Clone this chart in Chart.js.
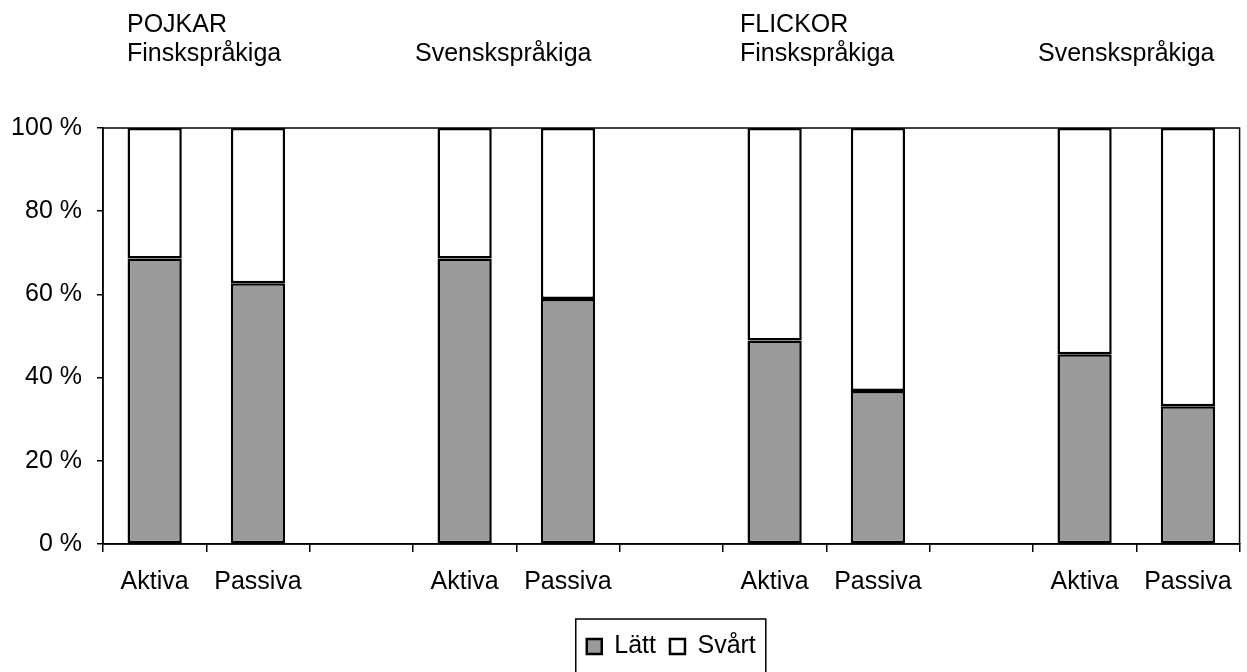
<!DOCTYPE html>
<html>
<head>
<meta charset="utf-8">
<script src="https://cdn.jsdelivr.net/npm/chart.js@4.4.0/dist/chart.umd.min.js"></script>
<style>
  html, body { margin: 0; padding: 0; background: #fff; }
  #wrap { width: 1247px; height: 672px; }
</style>
</head>
<body>
<div id="wrap"><canvas id="chart"></canvas></div>
<script>
// categories along the x axis (empty slots separate the groups)
const categories = ['Aktiva', 'Passiva', '', 'Aktiva', 'Passiva', '', 'Aktiva', 'Passiva', '', 'Aktiva', 'Passiva'];
// share (%) of "Lätt" and "Svårt" per bar
const lattValues = [68.6, 62.7, null, 68.6, 58.9, null, 48.9, 36.8, null, 45.6, 33.1];
const svartValues = [31.4, 37.3, null, 31.4, 41.1, null, 51.1, 63.2, null, 54.4, 66.9];
const yTicks = [0, 20, 40, 60, 80, 100];
// group headings above the plot
const groupTitles = [
  ['POJKAR', 'Finskspråkiga'],
  ['', 'Svenskspråkiga'],
  ['FLICKOR', 'Finskspråkiga'],
  ['', 'Svenskspråkiga']
];
const titleX = [127, 415, 740, 1038];

const FONT = '"Liberation Sans", Arial, sans-serif';
Chart.defaults.font.family = FONT;
Chart.defaults.color = '#000';

const framePlugin = {
  id: 'frameAndTitles',
  beforeDatasetsDraw(chart) {
    const { ctx, chartArea: a } = chart;
    ctx.save();
    ctx.strokeStyle = '#000';
    ctx.lineWidth = 1.5;
    ctx.strokeRect(a.left, a.top, a.right - a.left, a.bottom - a.top);
    ctx.restore();
  },
  afterDraw(chart) {
    const { ctx } = chart;
    ctx.save();
    ctx.fillStyle = '#000';
    ctx.font = '25px ' + FONT;
    ctx.textBaseline = 'alphabetic';
    ctx.textAlign = 'left';
    groupTitles.forEach((t, i) => {
      if (t[0]) ctx.fillText(t[0], titleX[i], 32);
      ctx.fillText(t[1], titleX[i], 61);
    });

    // border round the legend
    const boxes = chart.legend.legendHitBoxes;
    if (boxes && boxes.length) {
      const first = boxes[0];
      const last = boxes[boxes.length - 1];
      const left = first.left - 11;
      const right = last.left + last.width + 10;
      const top = first.top - 15;
      ctx.strokeStyle = '#000';
      ctx.lineWidth = 1.5;
      ctx.beginPath();
      ctx.moveTo(left, 680);
      ctx.lineTo(left, top);
      ctx.lineTo(right, top);
      ctx.lineTo(right, 680);
      ctx.stroke();
    }
    ctx.restore();
  }
};

new Chart(document.getElementById('chart'), {
  type: 'bar',
  data: {
    labels: categories,
    datasets: [
      {
        label: 'Lätt',
        data: lattValues,
        backgroundColor: '#9a9a9a',
        borderColor: '#000',
        borderWidth: 2.5,
        borderSkipped: false,
        categoryPercentage: 1,
        barPercentage: 0.525
      },
      {
        label: 'Svårt',
        data: svartValues,
        backgroundColor: '#fff',
        borderColor: '#000',
        borderWidth: 2.5,
        borderSkipped: false,
        categoryPercentage: 1,
        barPercentage: 0.525
      }
    ]
  },
  options: {
    responsive: true,
    maintainAspectRatio: false,
    animation: false,
    layout: { padding: { top: 128, right: 7, left: 0, bottom: 3 } },
    plugins: {
      tooltip: { enabled: false },
      legend: {
        position: 'bottom',
        fullSize: false,
        labels: {
          boxWidth: 15,
          boxHeight: 15,
          padding: 14,
          color: '#000',
          font: { size: 25 }
        }
      }
    },
    scales: {
      x: {
        stacked: true,
        grid: { offset: true, drawOnChartArea: false, tickLength: 8, color: '#000', lineWidth: 1.5 },
        border: { color: '#000', width: 1.5 },
        ticks: { color: '#000', font: { size: 25 }, padding: 15, maxRotation: 0, autoSkip: false },
        afterFit(s) { s.height = 76; }
      },
      y: {
        stacked: true,
        min: 0,
        max: 100,
        afterBuildTicks(s) { s.ticks = yTicks.map(v => ({ value: v })); },
        grid: { drawOnChartArea: false, tickLength: 6, color: '#000', lineWidth: 1.5 },
        border: { color: '#000', width: 1.5 },
        ticks: { color: '#000', font: { size: 25 }, padding: 15, callback: v => v + ' %' },
        afterFit(s) { s.width = 103; }
      }
    }
  },
  plugins: [framePlugin]
});
</script>
</body>
</html>
